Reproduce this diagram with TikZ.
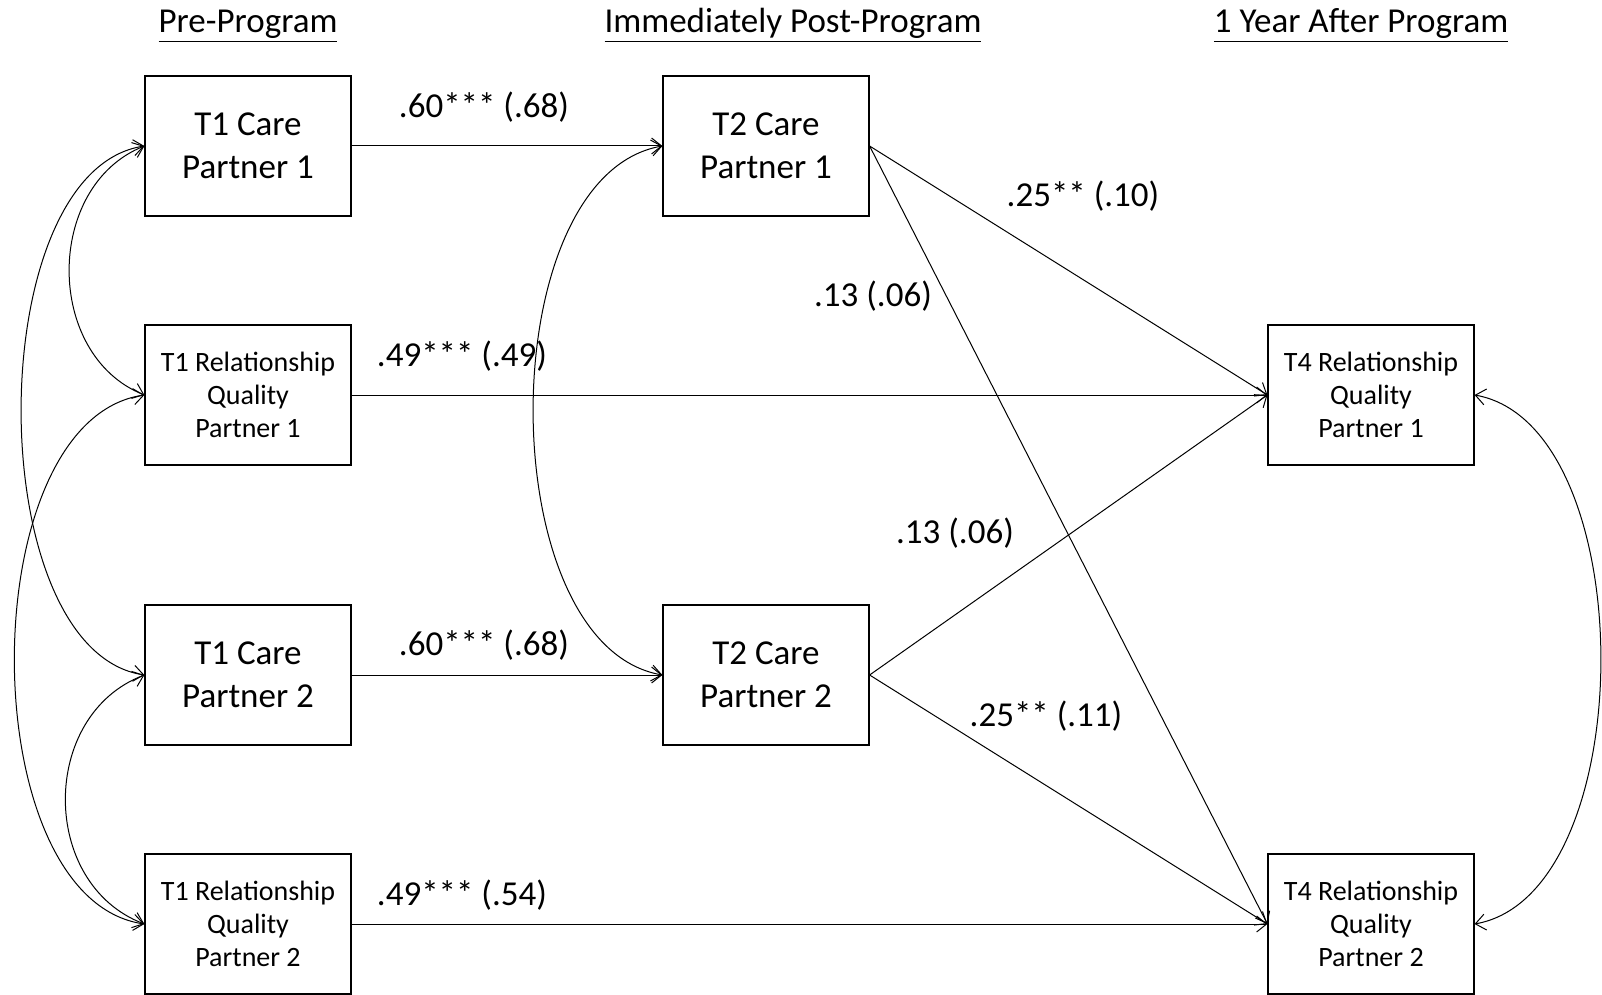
\documentclass[tikz,border=0pt]{standalone}
\usepackage{fontspec}
\setmainfont{Carlito}
\usetikzlibrary{arrows.meta}
\tikzset{
  box/.style={draw,line width=.6pt,minimum width=103pt,minimum height=70pt,inner sep=0pt,align=center,font=\fontsize{17.5}{21.5}\selectfont},
  rqbox/.style={box,font=\fontsize{14}{16.5}\selectfont},
  lbl/.style={font=\fontsize{17.5}{21}\selectfont},
  hdr/.style={anchor=base,font=\fontsize{17.5}{21}\selectfont}
}
\begin{document}
\begin{tikzpicture}[x=.5pt,y=-.5pt,line width=.5pt,>={Straight Barb[length=5pt,width=8pt]}]
  \useasboundingbox (0,0) rectangle (1602,995);
  \node[hdr] (pre) at (248,33) {\underline{Pre-Program}};
  \node[hdr] (post) at (793,33) {\underline{Immediately Post-Program}};
  \node[hdr] (year) at (1361,33) {\underline{1 Year After Program}};
  \node[box] (t1c1) at (248,146) {T1 Care\\Partner 1};
  \node[rqbox] (t1rq1) at (248,395) {T1 Relationship\\Quality\\Partner 1};
  \node[box] (t1c2) at (248,675) {T1 Care\\Partner 2};
  \node[rqbox] (t1rq2) at (248,924) {T1 Relationship\\Quality\\Partner 2};
  \node[box] (t2c1) at (766,146) {T2 Care\\Partner 1};
  \node[box] (t2c2) at (766,675) {T2 Care\\Partner 2};
  \node[rqbox] (t4rq1) at (1371,395) {T4 Relationship\\Quality\\Partner 1};
  \node[rqbox] (t4rq2) at (1371,924) {T4 Relationship\\Quality\\Partner 2};
  \draw[->] (t1c1) -- (t2c1);
  \draw[->] (t1c2) -- (t2c2);
  \draw[->] (t1rq1) -- (t4rq1);
  \draw[->] (t1rq2) -- (t4rq2);
  \draw[->] (t2c1.east) -- (t4rq1.west);
  \draw[->] (t2c1.east) -- (t4rq2.west);
  \draw[->] (t2c2.east) -- (t4rq1.west);
  \draw[->] (t2c2.east) -- (t4rq2.west);
  \node[lbl] (b11) at (484,107) {.60*** (.68)};
  \node[lbl] (b22) at (462,356) {.49*** (.49)};
  \node[lbl] (b33) at (484,645) {.60*** (.68)};
  \node[lbl] (b44) at (462,895) {.49*** (.54)};
  \node[lbl] (b51) at (1083,196) {.25** (.10)};
  \node[lbl] (b52) at (873,296) {.13 (.06)};
  \node[lbl] (b61) at (955,533) {.13 (.06)};
  \node[lbl] (b62) at (1046,716) {.25** (.11)};
  \draw[<->] (t1c1.west) .. controls +(-100,40) and +(-100,-40) .. (t1rq1.west);
  \draw[<->] (t1c1.west) .. controls +(-164,25) and +(-164,-25) .. (t1c2.west);
  \draw[<->] (t1rq1.west) .. controls +(-173,25) and +(-173,-25) .. (t1rq2.west);
  \draw[<->] (t1c2.west) .. controls +(-105,40) and +(-105,-40) .. (t1rq2.west);
  \draw[<->] (t2c1.west) .. controls +(-172,30) and +(-172,-30) .. (t2c2.west);
  \draw[<->] (t4rq1.east) .. controls +(168,30) and +(168,-30) .. (t4rq2.east);
\end{tikzpicture}
\end{document}
